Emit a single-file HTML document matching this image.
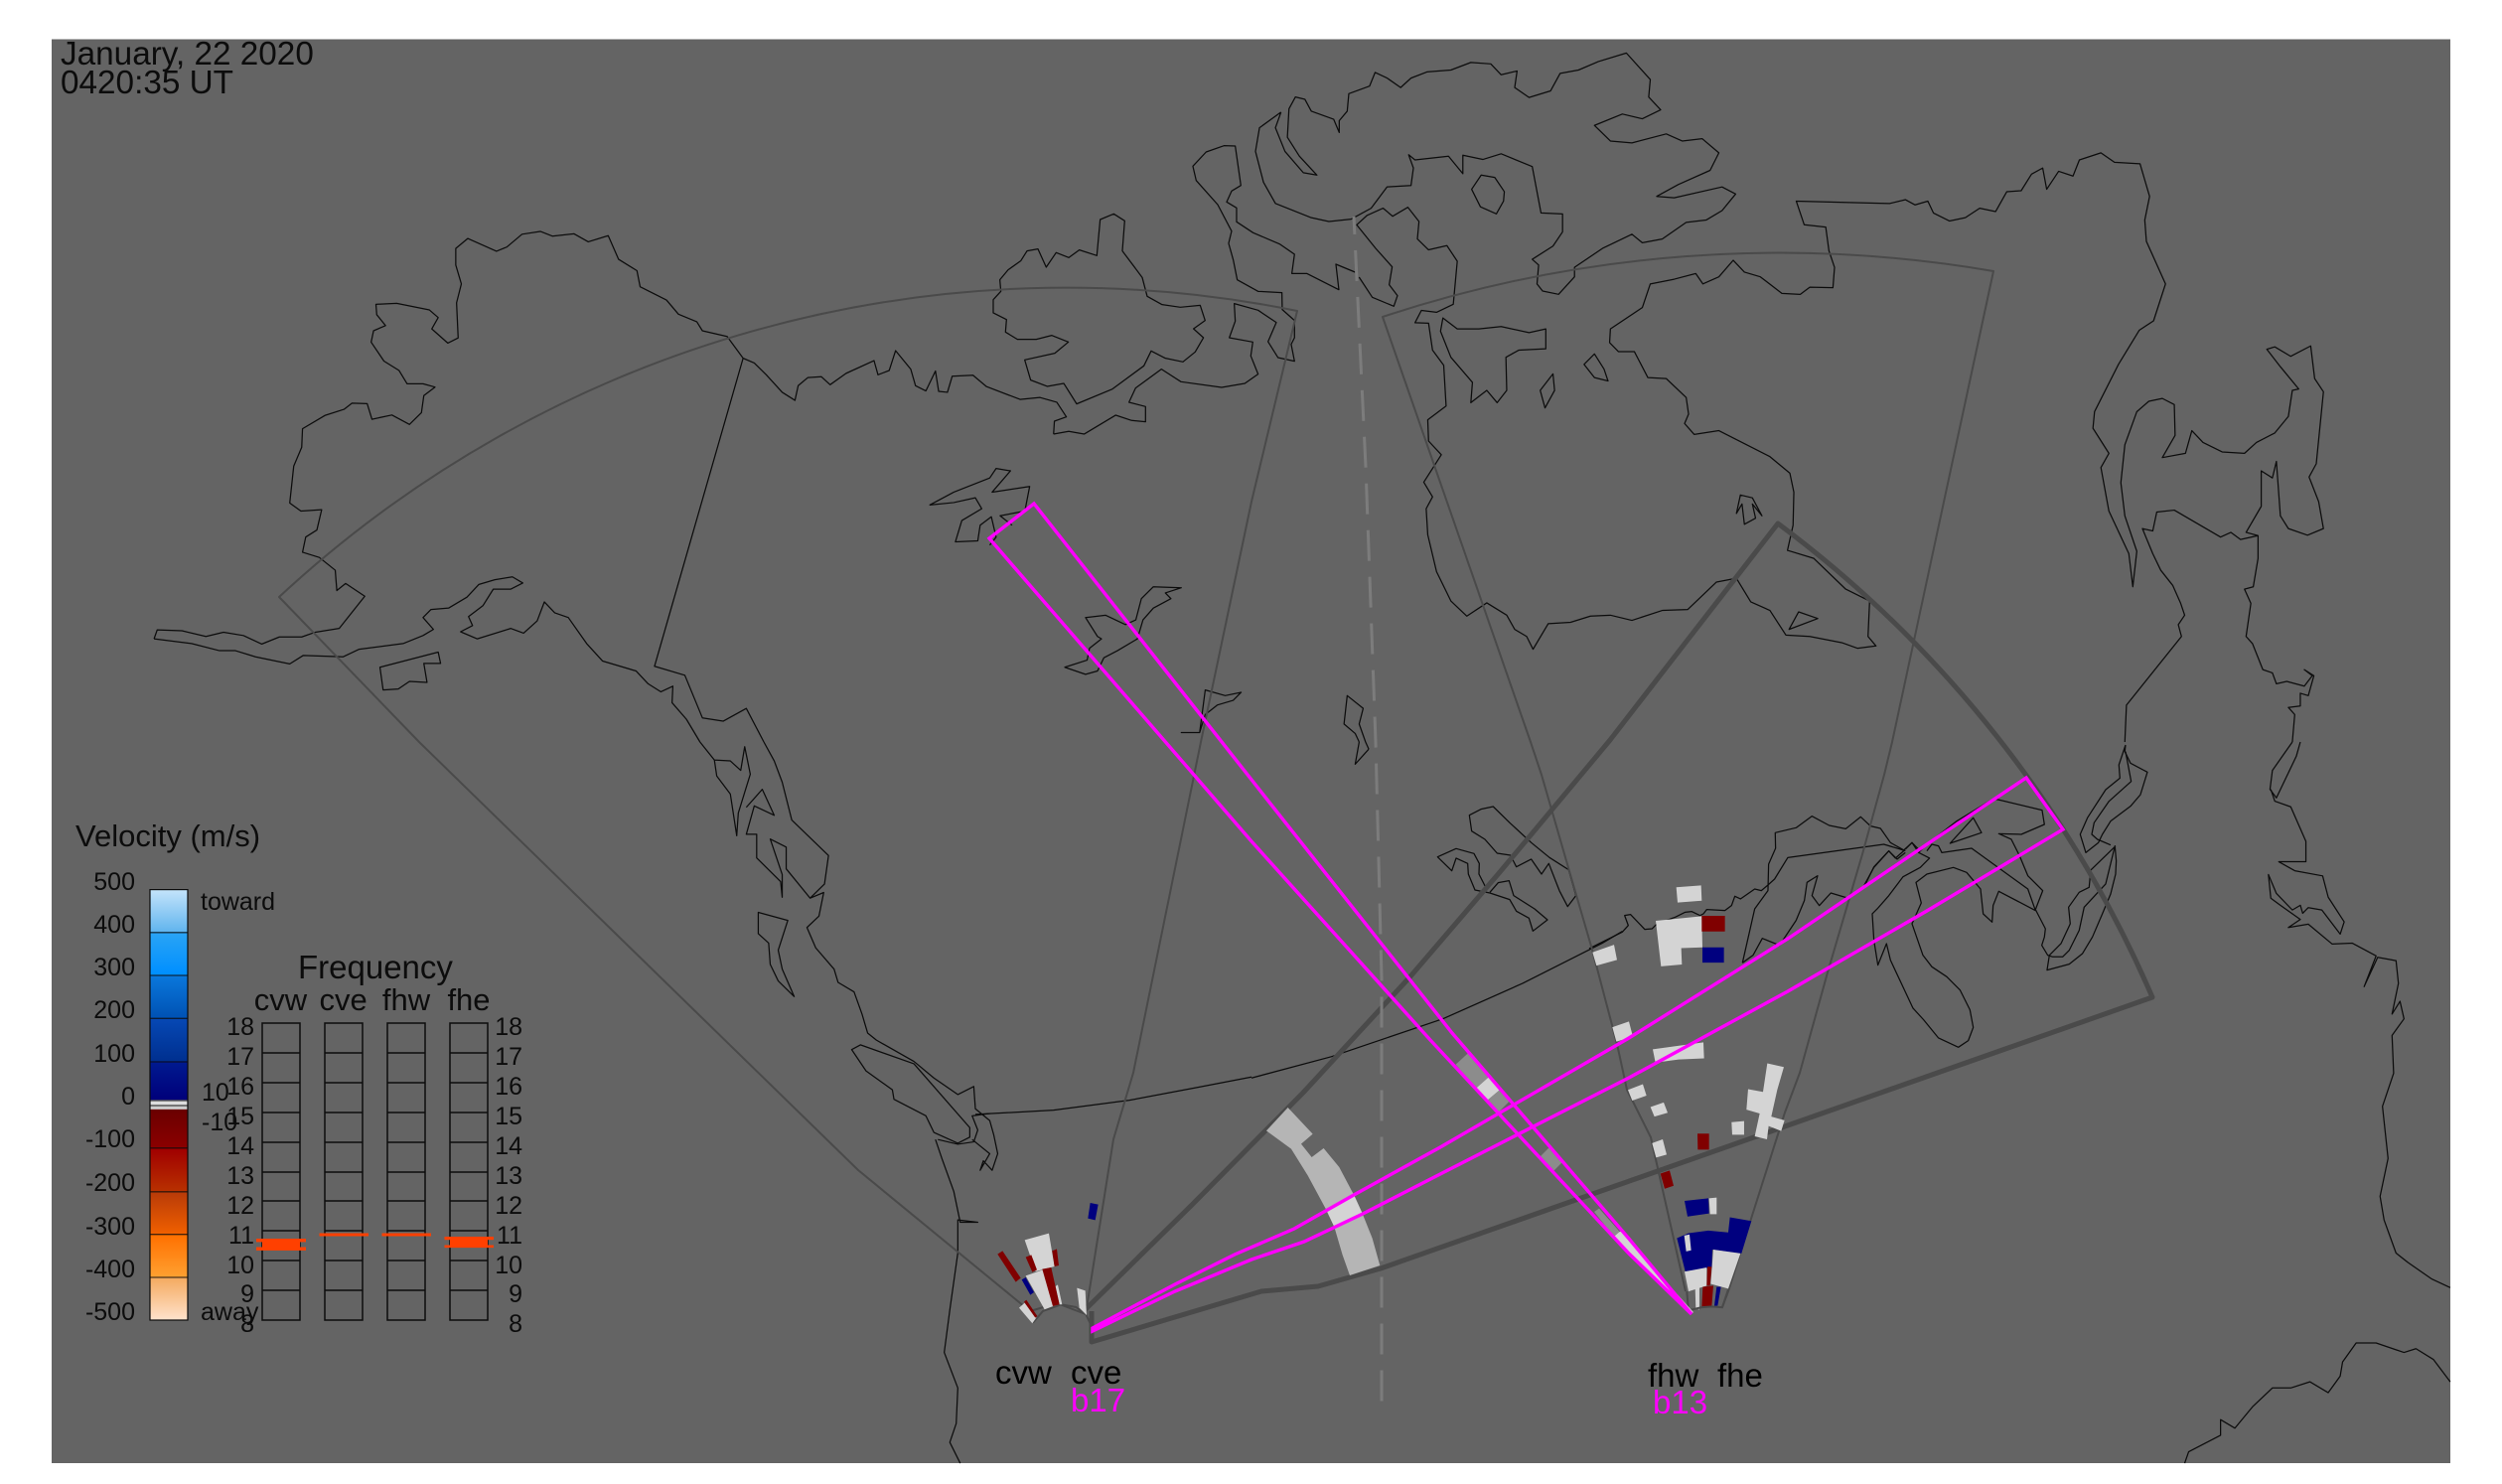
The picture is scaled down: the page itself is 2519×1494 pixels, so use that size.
<!DOCTYPE html>
<html><head><meta charset="utf-8"><style>
html,body{margin:0;padding:0;background:#fff}
svg{display:block}
polyline,polygon,line,path{vector-effect:non-scaling-stroke}
.c polyline,.c polygon{fill:none;stroke:#0c0c0c;stroke-width:1.25;stroke-linejoin:round}
.g polyline,.g path{fill:none;stroke:#4a4a4a;stroke-width:2;stroke-linejoin:round}
.t polyline,.t path{fill:none;stroke:#4a4a4a;stroke-width:5;stroke-linejoin:round}
.m polyline,.m polygon{fill:none;stroke:#ff00ff;stroke-width:3.4;stroke-linejoin:miter}
.lt{fill:#d4d4d4}.mr{fill:#800000}.bl{fill:#00007f}.gr{fill:#8c8c8c}.ar{fill:#b5b5b5}
text{font-family:"Liberation Sans",sans-serif;fill:#0c0c0c}
.n{font-size:25px}.e{text-anchor:end}.mid{text-anchor:middle}
.b{font-size:33px;fill:#000}.p{font-size:33px;fill:#ff00ff}
</style></head><body>
<svg xmlns="http://www.w3.org/2000/svg" width="2519" height="1494" viewBox="0 0 2519 1494">
<defs><linearGradient id="cb" x1="0" y1="0" x2="0" y2="1">
<stop offset="0" stop-color="#c4e4fb"/><stop offset=".097" stop-color="#62b5ee"/>
<stop offset=".1" stop-color="#2aa4f5"/><stop offset=".197" stop-color="#008fff"/>
<stop offset=".2" stop-color="#0a78dc"/><stop offset=".297" stop-color="#0052b4"/>
<stop offset=".3" stop-color="#0648b4"/><stop offset=".397" stop-color="#003090"/>
<stop offset=".4" stop-color="#001a90"/><stop offset=".488" stop-color="#00007a"/>
<stop offset=".489" stop-color="#dddddd"/><stop offset=".5" stop-color="#dddddd"/>
<stop offset=".501" stop-color="#cccccc"/><stop offset=".51" stop-color="#cccccc"/>
<stop offset=".511" stop-color="#6a0000"/><stop offset=".6" stop-color="#8b0000"/>
<stop offset=".603" stop-color="#a00000"/><stop offset=".7" stop-color="#b83000"/>
<stop offset=".702" stop-color="#b83a08"/><stop offset=".8" stop-color="#f06000"/>
<stop offset=".802" stop-color="#ff7000"/><stop offset=".9" stop-color="#ffa030"/>
<stop offset=".902" stop-color="#f4aa60"/><stop offset="1" stop-color="#ffe2cc"/>
</linearGradient></defs>
<rect x="0" y="0" width="2519" height="1494" fill="#fff"/>
<rect x="52" y="39.5" width="2415" height="1433.5" fill="#646464"/>

<!-- coast Z4 -->
<g class="c" transform="matrix(.8036 0 0 .4764 0 0)">
<polyline points="193,1350 197,1331 228,1333 258,1345 280,1336 305,1343 328,1361 350,1346 378,1346 395,1336 425,1328 457,1260 433,1233 422,1248 420,1205 400,1178 379,1167 383,1135 397,1120 403,1077 377,1080 363,1063 368,985 378,945 379,906 407,878 431,865 441,852 460,853 466,886 491,877 513,897 528,872 531,836 545,818 530,811 510,811 500,783 481,763 465,723 468,699 483,688 472,665 471,643 497,641 538,655 549,671 541,695 561,725 574,714 572,640 578,600 571,560 571,525 586,504 622,531 635,522 654,495 677,489 692,499 719,494 737,511 762,498 775,548 798,572 802,606 835,634 850,664 873,680 880,699 911,711 931,757 945,767 960,792 980,829 996,846 1000,815 1012,798 1029,796 1040,813 1060,789 1095,762 1100,792 1114,783 1122,741 1141,780 1147,815 1160,826 1172,784 1176,827 1187,829 1193,795 1219,793 1236,817 1278,844 1303,840 1324,850 1336,881 1321,890 1320,917"/>
<polyline points="193,1350 240,1360 275,1375 295,1375 320,1388 363,1403 380,1385 430,1388 450,1372 505,1360 530,1343 543,1330 530,1305 540,1288 562,1285 585,1262 600,1235 620,1225 642,1219 655,1232 640,1245 618,1245 605,1280 587,1303 592,1322 577,1335 598,1350 640,1328 656,1338 673,1312 682,1272 695,1295 712,1305 735,1360 755,1397 797,1418 812,1445 828,1462 843,1450 842,1485 860,1520 877,1568"/>
<polyline points="931,757 820,1408 858,1427 880,1517 906,1524 935,1497 957,1568"/>
<polygon points="476,1410 549,1378 552,1402 531,1402 535,1442 513,1440 499,1456 480,1458"/>
<polyline points="1240,1152 1248,1135 1242,1092 1228,1110 1225,1143 1197,1145 1205,1100 1230,1075 1222,1052 1195,1062 1165,1067 1195,1040 1240,1010 1248,990 1266,995 1243,1040 1290,1028 1284,1080 1253,1090 1268,1110"/>
<polygon points="1334,1410 1360,1425 1375,1418 1383,1390 1400,1375 1425,1350 1432,1310 1445,1285 1467,1265 1460,1253 1480,1242 1445,1240 1430,1265 1423,1310 1410,1320 1385,1300 1360,1305 1375,1345 1380,1350 1365,1370 1362,1395"/>
<polygon points="1480,1548 1503,1548 1510,1458 1535,1470 1555,1463 1545,1480 1525,1490 1510,1510 1503,1548"/>
</g>
<!-- coast Z8 -->
<g class="c" transform="matrix(.3333 0 0 .3333 960 130)">
<polyline points="302,921 348,913 395,921 490,864 538,880 580,884 580,838 530,825 550,782 628,725 687,763 810,780 880,768 920,740 898,685 904,643 833,630 851,580 848,527 920,547 975,584 950,642 980,690 1030,701 1020,650 1030,630 1030,578 993,545 992,494 920,490 857,455 845,395 831,345 840,308 798,228 733,155 723,112 763,69 817,50 851,51 868,170 840,187 825,220 855,238 855,280 905,313 985,347 1030,378 1022,436 1067,436 1164,485 1155,408 1213,432"/>
<polyline points="1225,447 1265,508 1330,535 1341,503 1316,470 1325,416 1275,360 1217,288"/>
<polygon points="120,555 160,575 157,613 193,635 250,635 297,623 347,643 306,677 215,697 233,758 283,777 333,768 372,830 480,785 575,715 597,670 640,692 693,703 730,673 755,630 725,603 760,578 745,532 685,538 630,530 585,505 570,448 510,368 517,277 484,256 443,273 433,382 380,365 348,388 310,373 280,417 255,362 222,368 203,398 165,425 140,455 143,490 120,515"/>
</g>
<!-- coast Z5 -->
<g class="c" transform="matrix(.803 0 0 .4764 1260 0)">
<polyline points="132,475 145,455 165,440 177,457 196,438 210,468 208,505 222,528 245,519 258,552 253,643 232,660 213,656 205,682 222,683 227,740 241,772 244,858 221,887 222,932 238,961 216,1019 227,1050 219,1075 221,1130 232,1208 250,1270 270,1302 295,1274 320,1300 330,1330 345,1345 353,1372 372,1318 400,1315 425,1302 450,1300 477,1311 515,1290 547,1288 583,1230 608,1222 626,1272 650,1290 670,1342 700,1345 740,1358 760,1370 783,1365 773,1345 775,1270 745,1245 705,1180 672,1163 679,1110 680,1040 675,1000 650,965 586,910 555,918 543,895 548,875 545,840 520,800 497,798 480,743 460,743 449,724 450,695 490,650 500,600 530,590 557,578 566,600 586,585 604,550 618,575 638,585 665,620 688,622 700,607 729,608 731,565 724,530 720,480 693,475 683,425 750,428 800,430 820,422 832,433 848,425 855,450 875,467 895,460 913,440 933,447 947,405 965,403 978,368 992,355 997,400 1012,362 1030,372 1038,338 1065,323 1082,343 1114,346 1126,415 1120,465 1122,510 1146,600 1131,678 1113,698 1087,770 1057,870 1055,905 1075,958 1065,988 1075,1080 1100,1170 1105,1240 1110,1165 1095,1090 1090,1020 1095,940 1110,870 1125,848 1142,842 1157,855 1158,920 1142,967 1171,958 1179,910 1193,935 1217,955 1245,958 1260,935 1283,915 1300,880 1305,825 1313,822 1290,775 1273,738 1283,733 1303,753 1328,731 1333,800 1344,828 1335,980 1326,1008 1338,1060 1344,1117 1324,1131 1300,1117 1290,1090 1285,975 1280,1010 1266,995 1266,1070 1247,1125 1262,1132 1240,1140 1228,1125 1215,1135 1157,1078 1135,1082 1130,1122 1117,1117 1130,1170 1140,1205 1155,1237 1165,1275 1170,1300 1162,1320 1166,1345 1097,1490 1095,1568"/>
<polyline points="1262,1132 1262,1180 1256,1240 1245,1245 1253,1275 1247,1345 1255,1360 1268,1415 1280,1422 1285,1445 1298,1440 1320,1450 1330,1428 1320,1415 1332,1428 1325,1470 1315,1465 1315,1492 1300,1495 1308,1510 1305,1568"/>
<polyline points="37,237 10,270 5,320 15,385 30,430 75,460 97,468 125,463 150,440 170,395 200,392 203,355 197,327 205,338 247,330 265,367 265,328 290,337 313,325 352,352 363,450 390,452 390,490 378,520 352,548 360,560 358,600 365,615 385,622 405,585 405,565 440,525 477,495 490,513 515,505 545,470 570,465 590,445 607,410 590,395 530,418 508,415 535,390 575,360 586,323 565,293 540,298 520,283 477,302 450,298 430,265 465,241 490,251 513,232 498,205 500,168 470,112 435,130 410,148 387,155 375,192 348,206 330,185 333,150 313,158 300,135 275,132 250,148 220,152 200,165 187,185 170,165 155,153 148,182 122,198 120,235 110,255 110,280 103,252 75,235 67,210 55,205 47,230 45,290 60,330 82,370 65,365 42,320 30,270 37,237"/>
<polygon points="288,370 305,375 317,405 316,425 307,452 287,437 276,400"/>
<polygon points="240,672 258,695 285,695 313,690 348,703 369,695 369,737 335,740 319,755 320,825 308,851 295,825 275,851 277,808 250,755 237,700"/>
<polygon points="430,748 442,780 447,805 430,798 417,770"/>
<polygon points="378,790 380,825 368,862 362,825"/>
<polygon points="613,1046 628,1052 640,1090 628,1065 632,1095 618,1108 615,1065 608,1085"/>
<polygon points="686,1293 710,1307 674,1330"/>
<polyline points="143,1568 135,1530 140,1497 120,1470 116,1530 130,1550 135,1568"/>
</g>
<!-- coast Z6 -->
<g class="c" transform="matrix(.8036 0 0 .4764 0 747)">
<polyline points="877,0 895,38 915,40 928,60 933,10 940,68 925,150 923,198 915,110 898,72 895,38"/>
<polyline points="957,0 970,40 980,85 992,165 1038,240 1033,300 1015,330 1032,318 1026,368 1011,392 1022,435 1045,480 1050,508 1070,528 1080,575 1087,615 1098,630 1145,675 1170,710 1200,745 1220,728 1222,775 1240,800 1245,830 1250,870 1243,905 1232,885 1228,905 1240,870 1218,840"/>
<polygon points="1067,650 1078,640 1145,680 1215,815 1215,835 1200,848 1170,825 1160,790 1120,755 1118,735 1085,695"/>
<polyline points="1175,840 1200,850 1220,845 1225,820 1218,790 1240,785"/>
<polyline points="1222,787 1320,778 1415,757 1500,730 1568,708"/>
<polyline points="1172,840 1180,880 1195,950 1203,1015 1225,1015 1200,1010 1200,1080 1190,1200 1183,1290 1200,1365 1198,1440 1190,1480 1203,1524"/>
<polygon points="950,360 987,377 975,440 980,480 995,538 975,505 965,470 963,425 950,405"/>
<polyline points="935,138 955,100 970,155 945,135 935,195 948,195 948,245 978,295 980,328 980,280 965,205 985,222 985,268 1015,330"/>
</g>
<!-- coast Z7 -->
<g class="c" transform="matrix(.803 0 0 .4764 1260 747)">
<polyline points="147,15 130,47 135,0"/><polyline points="147,15 143,0"/>
<polyline points="1305,0 1280,60 1277,100 1285,118 1310,30 1315,0"/>
<polyline points="1278,100 1283,125 1303,137 1322,210 1322,253 1288,253 1308,272 1343,283 1350,328 1370,380 1365,406 1342,355 1325,350 1318,362 1315,345 1305,355 1285,320 1275,280 1278,330 1290,345 1315,375 1300,392 1325,385 1355,427 1380,425 1410,452 1395,517 1412,455 1435,462 1438,510 1430,575 1440,548 1445,585 1430,620 1432,700 1418,770 1425,880 1415,960 1420,1010 1435,1080 1450,1100 1480,1135 1503,1153"/>
<polyline points="1170,1524 1175,1500 1215,1465 1215,1432 1233,1450 1255,1405 1280,1365 1303,1365 1327,1352 1350,1375 1365,1340 1368,1310 1385,1270 1410,1270 1445,1290 1460,1282 1482,1305 1503,1352"/>
<polyline points="0,710 100,665 240,585 340,510 440,425 465,400"/>
</g>
<!-- coast Z9 -->
<g class="c" transform="matrix(.3333 0 0 .3333 1420 780)">
<polygon points="178,122 213,104 250,96 300,145 365,205 420,250 478,287 500,365 475,398 450,350 418,268 396,300 365,255 320,278 302,243 262,237 225,195 185,170"/>
<polyline points="230,345 207,300 208,268 192,238 138,223 82,248 125,290 138,252 173,268 175,300 195,348 240,357 300,377 320,412 358,433 370,472 414,438 375,405 312,365 298,320 265,326 240,355"/>
<polyline points="540,525 640,475 658,455 647,425 665,422 708,467 730,465 745,450 800,430 830,415 850,413 875,425 885,420 895,407 950,410 970,395 980,367 997,375 1040,345 1060,350 1080,333 1100,315 1140,250 1430,210 1490,228 1515,205 1540,230"/>
<polyline points="1003,568 1040,405 1080,350 1082,270 1103,222 1102,175 1165,160 1213,125 1265,153 1315,163 1360,127 1390,155 1420,162 1450,205 1495,230"/>
<polyline points="1003,568 1035,545 1063,494 1115,515 1165,440 1190,380 1198,325 1230,305 1213,365 1235,395 1270,357 1320,372"/>
<polyline points="1370,335 1400,280 1445,230 1470,255 1495,235"/>
</g>
<!-- coast Z10 -->
<g class="c" transform="matrix(.3333 0 0 .3333 1800 750)">
<polyline points="1020,0 1018,20 1035,55 1086,82 1065,150 1035,185 975,230 950,270 938,295 900,325 883,270 905,220 960,135 1003,100 1000,60 1020,0"/>
<polyline points="1020,20 1037,110 970,170 925,235 918,270 935,285 975,302"/>
<polyline points="990,305 915,378 910,430 880,445 848,490 853,540 825,600 790,635 783,680 850,662 890,630 920,580 950,510 975,450 990,390 992,350 988,305 960,420 895,490 880,560 850,620 830,640 800,640 785,635 767,605 775,580 778,555 748,497 770,440 725,395 700,335 675,285 637,268 705,270 775,240 768,197 635,165 620,163 510,230 420,300 395,325 428,342 400,370 348,398 305,455 270,495 255,510 260,590 272,665 298,600 310,650 378,795 410,830 455,885 515,913 545,893 560,853 550,800 520,740 480,700 435,670 408,635 375,540 403,477 387,415 420,390 500,370 540,385 582,435 590,510 617,535 620,485 637,442 748,500 725,435 555,312 465,325 455,305 435,300 420,320"/>
<polygon points="490,297 560,220 585,265"/>
<polyline points="355,315 375,295 395,325"/>
<polyline points="350,320 325,342 305,320 260,368 230,430"/>
</g>

<!-- thin FOVs -->
<g class="g">
<path d="M1093,1323 L1064,1312 L1037,1320 L864,1178 L422,747 L281,601 A1165,1165 0 0 1 1306,313 L1260,505 L1209,747 L1141,1080 L1121,1147 L1093,1323"/>
<path d="M1697,1300 L1662,1145 L1638,1097 L1628,1051 L1603,956 L1580,877 L1552,780 L1541,747 L1392,319 A1270,1270 0 0 1 2007,273 L1905,747 L1897,780 L1875,860 L1840,979 L1812,1080 L1797,1120 L1763,1227 L1740,1300 L1734,1316"/>
</g>
<!-- thick FOV -->
<g class="t">
<path d="M1099,1320 L1099,1351 L1270,1300 L1327,1295 L1390,1277 L2167,1004 A1175,1175 0 0 0 1790,527 L1700,643 L1621,745 L1510,878 L1420,983 L1312,1100 L1200,1213 L1093,1318"/>
</g>
<!-- dashed centre -->
<polyline points="1363,218 1375,470 1385,747 1391,985 1391,1413" fill="none" stroke="#7c7c7c" stroke-width="3" stroke-dasharray="31 16" stroke-dashoffset="13"/>

<!-- cve/cvw cells + arc -->
<g transform="matrix(.3333 0 0 .3333 950 1100)">
<polyline points="270,695 300,660 355,640 400,648 430,670 450,712" fill="none" stroke="#4a4a4a" stroke-width="2"/>
<polygon class="ar" points="1040,45 1115,125 1080,155 1112,195 1148,168 1195,225 1240,310 1265,365 1295,440 1318,522 1227,552 1205,490 1180,405 1155,352 1100,250 1050,170 975,115"/>
<polygon class="lt" points="1155,352 1240,310 1265,365 1180,405"/>
<polygon class="lt" points="245,445 318,425 335,525 278,540"/>
<polygon class="mr" points="163,488 178,478 233,560 218,572"/>
<polygon class="mr" points="248,497 265,490 282,535 268,542"/>
<polygon class="mr" points="328,478 342,472 348,522 335,525"/>
<polygon class="lt" points="248,553 300,535 345,640 305,655"/>
<polygon class="lt" points="338,585 345,580 358,640 350,640"/>
<polygon class="mr" points="298,533 325,528 350,640 330,645"/>
<polygon class="bl" points="236,565 248,558 273,603 262,611"/>
<polygon class="lt" points="228,650 245,635 280,680 268,697"/>
<polygon class="mr" points="243,632 250,626 283,675 277,680"/>
<polygon class="lt" points="403,590 428,598 432,672 410,650"/>
<polygon class="bl" points="443,333 467,338 458,385 436,380"/>
</g>
<!-- fh cells -->
<g transform="matrix(.3333 0 0 .3827 1550 860)">
<polygon class="lt" points="413,87 488,82 490,122 417,127"/>
<polygon class="lt" points="351,175 490,163 492,245 428,247 430,290 367,295"/>
<polygon class="lt" points="160,258 225,238 234,278 172,293"/>
<polygon class="lt" points="220,455 270,440 282,480 232,493"/>
<polygon class="lt" points="342,513 495,495 497,537 420,540 350,548"/>
<polygon class="lt" points="267,620 312,605 323,635 280,648"/>
<polygon class="lt" points="335,665 375,653 387,680 347,690"/>
<polygon class="lt" points="340,760 372,750 384,790 352,798"/>
<polygon class="lt" points="580,705 618,702 618,738 582,738"/>
<polygon class="lt" points="688,550 738,560 718,620 700,690 740,700 730,728 692,715 687,750 650,742 665,682 625,672 630,618 675,625"/>
<polygon class="mr" points="490,162 560,162 560,203 490,203"/>
<polygon class="mr" points="477,735 512,735 512,777 478,777"/>
<polygon class="mr" points="365,840 393,832 405,872 378,880"/>
<polygon class="bl" points="492,245 557,245 557,285 492,285"/>
<polygon class="bl" points="438,912 510,905 512,945 447,953"/>
<polygon class="lt" points="512,905 535,903 535,947 515,947"/>
<polygon class="bl" points="415,1010 450,997 510,990 570,995 575,955 640,965 610,1050 522,1040 520,1088 440,1097"/>
<polygon class="lt" points="437,1003 453,1000 458,1042 443,1045"/>
<polygon class="lt" points="438,1098 505,1087 505,1135 450,1150"/>
<polygon class="lt" points="525,1040 607,1050 570,1143 517,1130"/>
<polygon class="mr" points="507,1085 520,1085 515,1135 505,1135"/>
<polygon class="mr" points="493,1138 525,1135 520,1190 490,1192"/>
<polygon class="lt" points="470,1140 483,1140 483,1198 472,1195"/>
<polygon class="bl" points="535,1138 548,1138 538,1188 528,1188"/>
<polyline points="445,1150 450,1200 490,1192 520,1190 552,1192 570,1145" fill="none" stroke="#4a4a4a" stroke-width="2"/>
<polygon class="lt" points="225,1005 245,992 465,1205 455,1210"/>
</g>
<!-- cells along b13 -->
<g transform="matrix(.3333 0 0 .3333 1440 1040)">
<polygon class="gr" points="77,95 115,60 180,130 137,168"/>
<polygon class="lt" points="137,168 180,130 212,170 170,205"/>
<polygon class="gr" points="170,205 212,170 238,207 205,240"/>
<polygon class="gr" points="333,372 358,347 397,392 372,417"/>
<polygon class="gr" points="495,540 510,530 572,600 555,615"/>
<polygon class="lt" points="555,615 572,600 600,630 600,665"/>
</g>

<!-- magenta beams -->
<g class="m">
<polygon points="1041,507 1264,790 1462,1040 1640,1247 1703,1323 1640,1262 1440,1047 1260,847 996,542"/>
<polygon points="1100,1337 1183,1293 1243,1263 1303,1237 1363,1203 1450,1155 1640,1045 1800,945 1940,850 2040,783 2077,835 1940,917 1800,998 1640,1085 1450,1182 1372,1222 1313,1250 1260,1268 1183,1300 1100,1340"/>
</g>

<!-- legend -->
<text x="76" y="852" style="font-size:31px">Velocity (m/s)</text>
<rect x="151" y="895.6" width="38" height="433.4" fill="url(#cb)" stroke="#0c0c0c" stroke-width="1.2"/>
<path d="M151,938.8H189M151,982H189M151,1025.3H189M151,1069H189M151,1155.8H189M151,1199.8H189M151,1242.7H189M151,1286H189M151,1108H189M151,1113H189" stroke="#0c0c0c" stroke-opacity=".75" stroke-width="1.3" fill="none"/>
<g class="n e">
<text x="136" y="896">500</text><text x="136" y="939">400</text><text x="136" y="982">300</text><text x="136" y="1025">200</text><text x="136" y="1069">100</text><text x="136" y="1112">0</text><text x="136" y="1155">-100</text><text x="136" y="1199">-200</text><text x="136" y="1243">-300</text><text x="136" y="1286">-400</text><text x="136" y="1329">-500</text>
</g>
<text class="n" x="202" y="916">toward</text>
<text class="n" x="202" y="1329">away</text>
<text class="n" x="203" y="1108">10</text>
<text class="n" x="203" y="1138">-10</text>
<text x="300" y="985" style="font-size:33px">Frequency</text>
<g style="font-size:31px" class="mid">
<text x="282.5" y="1017">cvw</text><text x="345.6" y="1017">cve</text><text x="409" y="1017">fhw</text><text x="472" y="1017">fhe</text>
</g>
<path fill="none" stroke="#0c0c0c" stroke-width="1.5" d="M264,1030H302V1329H264ZM327,1030H365V1329H327ZM390,1030H428V1329H390ZM453,1030H491V1329H453Z
M264,1060H302M264,1090H302M264,1120H302M264,1150H302M264,1180H302M264,1209H302M264,1239H302M264,1269H302M264,1299H302
M327,1060H365M327,1090H365M327,1120H365M327,1150H365M327,1180H365M327,1209H365M327,1239H365M327,1269H365M327,1299H365
M390,1060H428M390,1090H428M390,1120H428M390,1150H428M390,1180H428M390,1209H428M390,1239H428M390,1269H428M390,1299H428
M453,1060H491M453,1090H491M453,1120H491M453,1150H491M453,1180H491M453,1209H491M453,1239H491M453,1269H491M453,1299H491"/>
<g class="n e">
<text x="256" y="1042">18</text><text x="256" y="1072">17</text><text x="256" y="1102">16</text><text x="256" y="1132">15</text><text x="256" y="1162">14</text><text x="256" y="1192">13</text><text x="256" y="1222">12</text><text x="256" y="1252">11</text><text x="256" y="1282">10</text><text x="256" y="1311">9</text><text x="256" y="1341">8</text>
<text x="526" y="1042">18</text><text x="526" y="1072">17</text><text x="526" y="1102">16</text><text x="526" y="1132">15</text><text x="526" y="1162">14</text><text x="526" y="1192">13</text><text x="526" y="1222">12</text><text x="526" y="1252">11</text><text x="526" y="1282">10</text><text x="526" y="1311">9</text><text x="526" y="1341">8</text>
</g>
<g fill="#ff4000">
<rect x="258" y="1247" width="50" height="3.4"/><rect x="264" y="1247" width="38" height="11.5"/><rect x="258" y="1255.5" width="50" height="3.4"/>
<rect x="321.5" y="1241.5" width="49.5" height="3"/>
<rect x="384.5" y="1241.5" width="49.5" height="3"/>
<rect x="447.5" y="1245" width="49.5" height="3.2"/><rect x="453" y="1245" width="38" height="11"/><rect x="447.5" y="1253.5" width="49.5" height="2.6"/>
</g>

<!-- titles -->
<text x="61" y="65" style="font-size:33.3px">January, 22 2020</text>
<text x="61" y="94" style="font-size:33.3px">0420:35 UT</text>
<text class="b" x="1002" y="1393">cvw</text>
<text class="b" x="1078" y="1393">cve</text>
<text class="p" x="1078" y="1421">b17</text>
<text class="b" x="1659" y="1396">fhw</text>
<text class="b" x="1729" y="1396">fhe</text>
<text class="p" x="1664" y="1423">b13</text>
</svg>
</body></html>
